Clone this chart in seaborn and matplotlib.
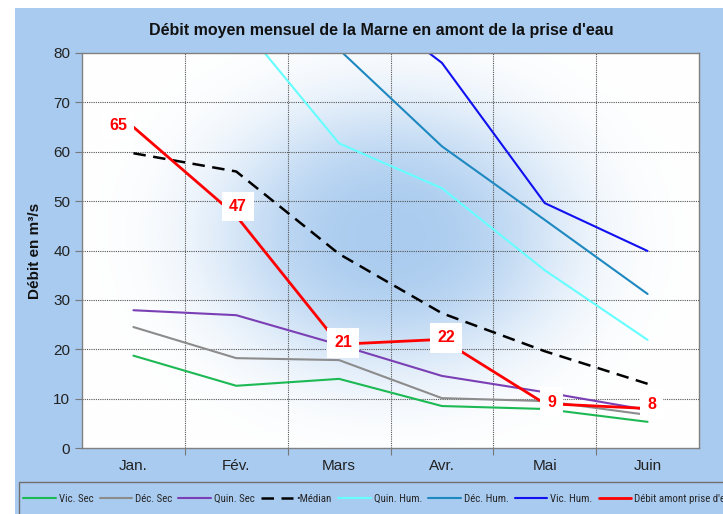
import numpy as np
import pandas as pd
import matplotlib
matplotlib.use("Agg")
import matplotlib.pyplot as plt
from matplotlib.patches import Rectangle
from matplotlib.colors import to_rgb
from matplotlib import font_manager
import seaborn as sns

months = ["Jan.", "Fév.", "Mars", "Avr.", "Mai", "Juin"]
vic_sec = [18.7, 12.6, 14.0, 8.5, 7.9, 5.3]
dec_sec = [24.5, 18.2, 17.8, 10.1, 9.5, 6.7]
quin_sec = [27.9, 26.9, 20.9, 14.6, 11.3, 7.7]
median = [59.7, 56.0, 39.3, 27.3, 19.6, 13.0]
quin_hum = [92.0, 87.0, 61.7, 52.6, 36.0, 21.9]
dec_hum = [110.0, 100.0, 80.7, 61.1, 46.2, 31.2]
vic_hum = [130.0, 120.0, 94.0, 78.0, 49.6, 39.9]
debit = [65, 47, 21, 22, 9, 8]
debit_labels = ["65", "47", "21", "22", "9", "8"]

series = [
    ("Vic. Sec", vic_sec, "#1DB954", "-", 1.5),
    ("Déc. Sec", dec_sec, "#8C8C8C", "-", 1.5),
    ("Quin. Sec", quin_sec, "#7B3FB5", "-", 1.5),
    ("•Médian", median, "#000000", (0, (5, 3)), 1.8),
    ("Quin. Hum.", quin_hum, "#66FFFF", "-", 1.5),
    ("Déc. Hum.", dec_hum, "#1E88C0", "-", 1.5),
    ("Vic. Hum.", vic_hum, "#1010F0", "-", 1.5),
    ("Débit amont prise d'eau", debit, "#FF0000", "-", 2.0),
]

rows = []
for name, vals, *_ in series:
    for i, v in enumerate(vals):
        rows.append({"serie": name, "x": i, "val": v})
df = pd.DataFrame(rows)

sns.set_theme(style="white")
plt.rcParams["font.family"] = ["Liberation Sans", "DejaVu Sans"]

avail = {f.name for f in font_manager.fontManager.ttflist}
narrow = None
for cand in ["Liberation Sans Narrow", "DejaVu Sans Condensed", "Roboto Condensed"]:
    if cand in avail:
        narrow = cand
        break

W, H = 723, 514
fig = plt.figure(figsize=(W / 100, H / 100), dpi=100)
fig.patch.set_facecolor("white")
blue_bg = "#A9CBF0"
fig.patches.append(Rectangle((15 / W, 0), 1 - 15 / W, 1 - 8 / H, transform=fig.transFigure,
                             facecolor=blue_bg, edgecolor="none", zorder=-10))
# legend frame (extends past the bottom/right edges like the original)
fig.patches.append(Rectangle((19 / W, -10 / H), (740 - 19) / W, (514 - 482 + 10) / H,
                             transform=fig.transFigure, facecolor="none",
                             edgecolor="#707070", lw=1.0, zorder=5))

ax = fig.add_axes([82 / W, 1 - 448 / H, (699 - 82) / W, (448 - 53) / H])

# soft blue cloud background
xs = np.linspace(-0.5, 5.5, 300)
ys = np.linspace(0, 80, 200)
X, Y = np.meshgrid(xs, ys)
r2 = ((X - 2.5) / 1.7) ** 2 + ((Y - 43) / 27) ** 2
blob = 0.92 * np.exp(-r2 ** 1.4)
c1 = np.array(to_rgb("#A4C8EE"))
img = (1 - blob[..., None]) * np.ones(3) + blob[..., None] * c1
ax.imshow(img, extent=[-0.5, 5.5, 0, 80], origin="lower", aspect="auto", zorder=0,
          interpolation="bilinear")

for name, vals, col, ls, lw in series:
    sub = df[df["serie"] == name]
    sns.lineplot(data=sub, x="x", y="val", ax=ax, color=col, linestyle=ls, linewidth=lw,
                 label=name, legend=False, zorder=3 if name.startswith("Débit") else 2)

offsets = [(-11, 1), (1, 7), (3, 1), (3, 1), (5, 1), (3, 3)]
for i, (v, lab) in enumerate(zip(debit, debit_labels)):
    ax.annotate(lab, (i, v), xytext=offsets[i], textcoords="offset points",
                ha="center", va="center", color="#FF0000", fontsize=11.5, fontweight="bold",
                bbox=dict(boxstyle="square,pad=0.45", fc="white", ec="none"), zorder=5)

ax.set_xlim(-0.5, 5.5)
ax.set_ylim(0, 80)
ax.set_yticks(range(0, 81, 10))
ax.set_xticks(range(6))
ax.set_xticklabels(months)
ax.set_xticks(np.arange(0.5, 5.0, 1.0), minor=True)
ax.grid(False)
for yv in range(10, 80, 10):
    ax.axhline(yv, color="#555555", lw=0.8, ls=(0, (1, 1)), zorder=1)
for xv in np.arange(0.5, 5.0, 1.0):
    ax.axvline(xv, color="#555555", lw=0.8, ls=(0, (1, 1)), zorder=1)
ax.tick_params(axis="both", labelsize=11, colors="#222222", length=0)
ax.tick_params(axis="y", left=True, length=5, width=0.8, color="#777777")
ax.tick_params(axis="x", which="minor", bottom=True, length=5, width=0.8, color="#777777")
ax.tick_params(axis="x", pad=8)
for sp in ax.spines.values():
    sp.set_color("#808080")
    sp.set_linewidth(1.0)
ax.set_xlabel("")
ax.set_ylabel("Débit en m³/s", fontsize=11, fontweight="bold", color="#111111", labelpad=8)

fig.text(381 / W, 1 - 30 / H, "Débit moyen mensuel de la Marne en amont de la prise d'eau",
         ha="center", va="center", fontsize=11.5, fontweight="bold", color="#111111")

handles, labels = ax.get_legend_handles_labels()
leg_font = {"size": 7.8}
if narrow:
    leg_font["family"] = [narrow, "DejaVu Sans"]
else:
    leg_font["size"] = 7.2
leg = fig.legend(handles, labels, loc="center left", bbox_to_anchor=(21 / W, 1 - 499 / H),
                 ncol=8, prop=leg_font, frameon=False, handlelength=3.0,
                 handletextpad=0.3, columnspacing=0.55, borderpad=0.2, borderaxespad=0)

fig.savefig("out.png", dpi=100, facecolor=fig.get_facecolor())
